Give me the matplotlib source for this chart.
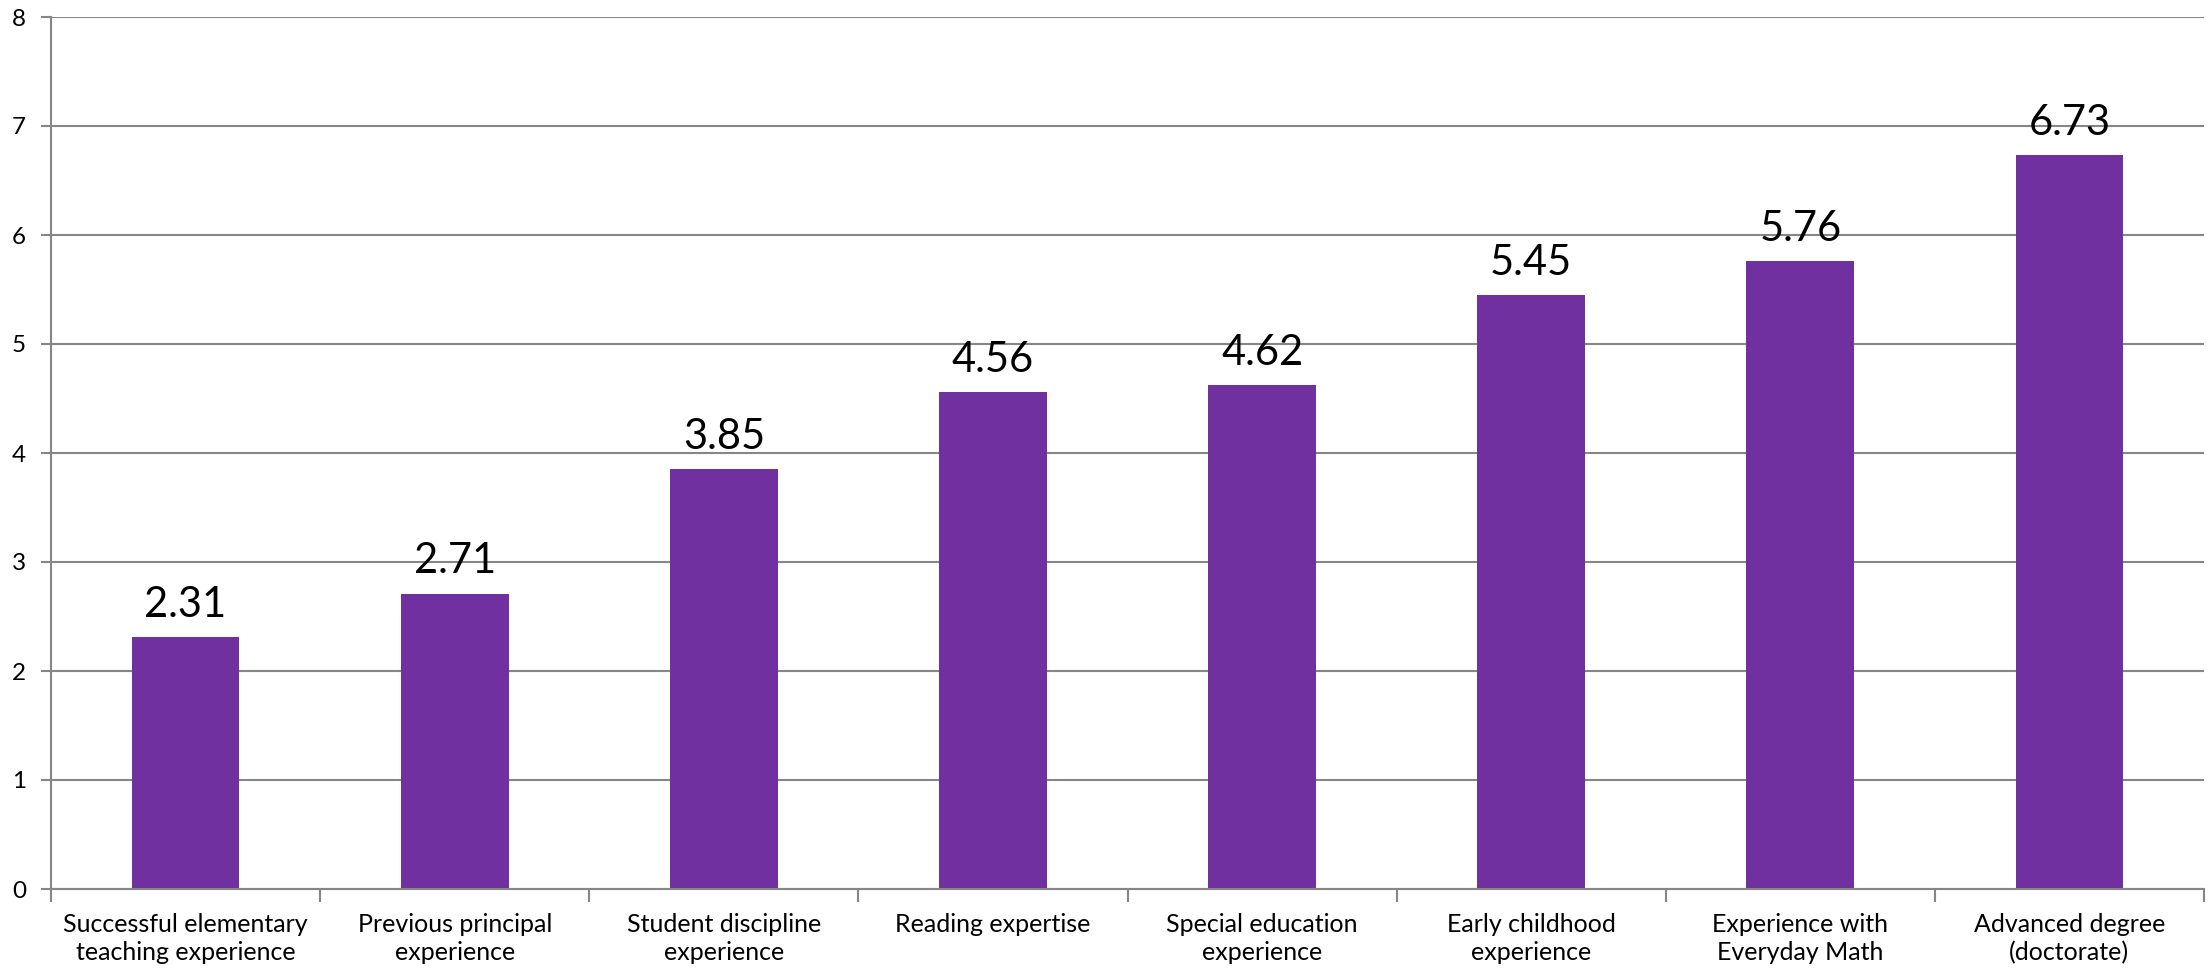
import matplotlib
matplotlib.use("Agg")
import matplotlib.pyplot as plt
from matplotlib.ticker import FixedLocator, NullFormatter

categories = [
    "Successful elementary\nteaching experience",
    "Previous principal\nexperience",
    "Student discipline\nexperience",
    "Reading expertise",
    "Special education\nexperience",
    "Early childhood\nexperience",
    "Experience with\nEveryday Math",
    "Advanced degree\n(doctorate)",
]
values = [2.31, 2.71, 3.85, 4.56, 4.62, 5.45, 5.76, 6.73]
value_labels = ["2.31", "2.71", "3.85", "4.56", "4.62", "5.45", "5.76", "6.73"]
yticks = [0, 1, 2, 3, 4, 5, 6, 7, 8]

plt.rcParams['font.family'] = ['Lato', 'DejaVu Sans']

fig = plt.figure(figsize=(22.09, 9.71), dpi=100)
ax = fig.add_axes([51/2209, 1-889/971, (2204-51)/2209, (889-17)/971])

grid_c = "#868686"
x = list(range(len(categories)))
bars = ax.bar(x, values, width=0.4, color="#7030A0", zorder=3)

ax.set_xlim(-0.5, len(categories) - 0.5)
ax.set_ylim(0, 8)
ax.set_yticks(yticks)
ax.set_yticklabels([str(t) for t in yticks], fontsize=17.5)
ax.yaxis.grid(True, color=grid_c, linewidth=1.5, zorder=0)

# category boundaries as major ticks, labels at centers as minor ticks
ax.xaxis.set_major_locator(FixedLocator([i - 0.5 for i in range(len(categories) + 1)]))
ax.xaxis.set_major_formatter(NullFormatter())
ax.xaxis.set_minor_locator(FixedLocator(x))
ax.set_xticklabels(categories, minor=True, fontsize=18, linespacing=1.3)
ax.tick_params(axis='x', which='major', length=9, width=1.5, color=grid_c, direction='out')
ax.tick_params(axis='x', which='minor', length=0, pad=17)
ax.tick_params(axis='y', length=7, width=1.5, color=grid_c, pad=11)

for s in ['top', 'right']:
    ax.spines[s].set_visible(False)
for s in ['left', 'bottom']:
    ax.spines[s].set_color(grid_c)
    ax.spines[s].set_linewidth(1.5)
    ax.spines[s].set_zorder(4)

for xi, v, lab in zip(x, values, value_labels):
    ax.annotate(lab, (xi, v), xytext=(0, 14.5), textcoords='offset points',
                ha='center', va='baseline', fontsize=30, color='black')

fig.savefig("out.png", dpi=100)
